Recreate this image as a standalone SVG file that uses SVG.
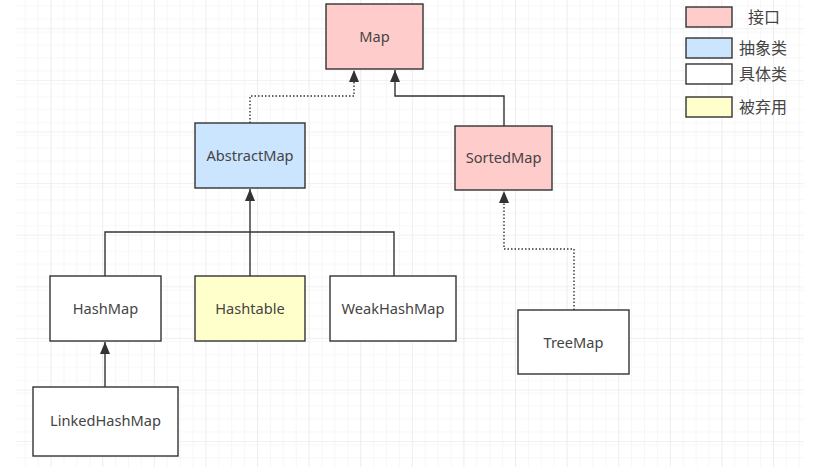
<svg xmlns="http://www.w3.org/2000/svg" width="818" height="473" viewBox="0 0 818 473">
<defs>
<pattern id="minor" x="0" y="3.3" width="12.9" height="12.9" patternUnits="userSpaceOnUse">
<path d="M12.9 0V12.9M0 12.9H12.9" fill="none" stroke="#efefef" stroke-width="1"/>
</pattern>
<pattern id="major" x="0" y="29.3" width="51.6" height="51.6" patternUnits="userSpaceOnUse">
<rect width="51.6" height="51.6" fill="url(#minor)"/>
<path d="M51.6 0V51.6M0 51.6H51.6" fill="none" stroke="#e2e2e2" stroke-width="1"/>
</pattern>
<marker id="arr" viewBox="0 0 12 10" refX="12" refY="5" markerWidth="12" markerHeight="10" markerUnits="userSpaceOnUse" orient="auto">
<path d="M0 0L12 5L0 10Z" fill="#333"/>
</marker>
</defs>
<style>
.box{stroke:#333;stroke-width:1.4}
.lbl{font-family:"Noto Sans","Liberation Sans",sans-serif;font-size:14.6px;fill:#444;text-anchor:middle}
.leg{font-family:"Noto Sans CJK SC","Noto Sans",sans-serif;font-size:16px;fill:#444}
.con{fill:none;stroke:#333;stroke-width:1.4}
.dot{stroke-dasharray:1.5 2}
</style>
<rect width="818" height="473" fill="#fff"/>
<rect x="16" y="0" width="788" height="467" fill="url(#major)"/>
<g id="connectors">
<path class="con dot" d="M250 123V96H354V70" marker-end="url(#arr)"/>
<path class="con" d="M504 126V96H395V70" marker-end="url(#arr)"/>
<path class="con" d="M105 276V232H394V276M250 276V232"/>
<path class="con" d="M250 232V189" marker-end="url(#arr)"/>
<path class="con" d="M105 387V342" marker-end="url(#arr)"/>
<path class="con dot" d="M574 310V249H504V191" marker-end="url(#arr)"/>
</g>
<g id="Map"><rect class="box" x="326" y="4" width="97" height="65" fill="#ffcccc"/><text class="lbl" x="374.5" y="42">Map</text></g>
<g id="AbstractMap"><rect class="box" x="195" y="123" width="110" height="65" fill="#cce5ff"/><text class="lbl" x="250" y="161">AbstractMap</text></g>
<g id="SortedMap"><rect class="box" x="455" y="126" width="97" height="64" fill="#ffcccc"/><text class="lbl" x="503.5" y="163">SortedMap</text></g>
<g id="HashMap"><rect class="box" x="50" y="276" width="111" height="65" fill="#fff"/><text class="lbl" x="105.5" y="314">HashMap</text></g>
<g id="Hashtable"><rect class="box" x="195" y="276" width="110" height="65" fill="#ffffcc"/><text class="lbl" x="250" y="314">Hashtable</text></g>
<g id="WeakHashMap"><rect class="box" x="330" y="276" width="126" height="65" fill="#fff"/><text class="lbl" x="393" y="314">WeakHashMap</text></g>
<g id="LinkedHashMap"><rect class="box" x="33" y="387" width="145" height="69" fill="#fff"/><text class="lbl" x="105.5" y="426">LinkedHashMap</text></g>
<g id="TreeMap"><rect class="box" x="518" y="310" width="111" height="64" fill="#fff"/><text class="lbl" x="573.5" y="348">TreeMap</text></g>
<g id="legend">
<rect class="box" x="686" y="7" width="46" height="20" fill="#ffcccc"/><text class="leg" x="748" y="23">接口</text>
<rect class="box" x="686" y="38" width="46" height="20" fill="#cce5ff"/><text class="leg" x="739" y="54">抽象类</text>
<rect class="box" x="686" y="64" width="46" height="20" fill="#fff"/><text class="leg" x="739" y="80">具体类</text>
<rect class="box" x="686" y="97" width="46" height="20" fill="#ffffcc"/><text class="leg" x="739" y="113">被弃用</text>
</g>
</svg>
